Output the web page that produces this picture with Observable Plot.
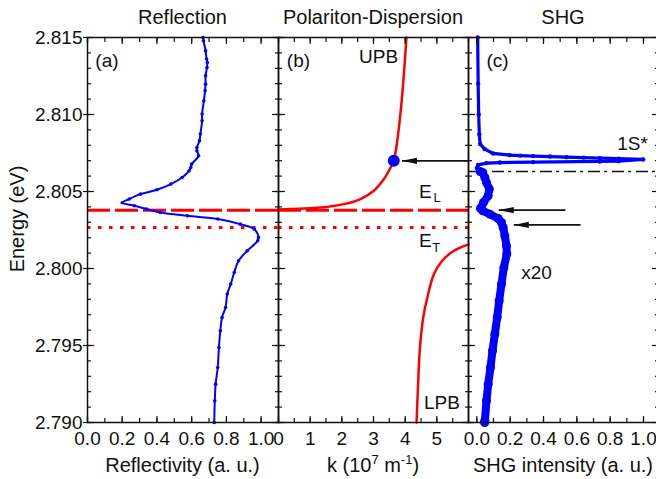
<!DOCTYPE html>
<html><head><meta charset="utf-8">
<script src="https://cdn.jsdelivr.net/npm/d3@7"></script>
<script src="https://cdn.jsdelivr.net/npm/@observablehq/plot@0.6"></script>
<style>
html,body{margin:0;padding:0;background:#fff;}
#wrap{position:relative;width:656px;height:479px;overflow:hidden;background:#fff;}
#wrap svg{position:absolute;top:0;}
</style></head><body><div id="wrap"></div>
<script>
// ---------- data ----------
const panelTitles = ["Reflection", "Polariton-Dispersion", "SHG"];
const yTickValues = [2.790, 2.795, 2.800, 2.805, 2.810, 2.815];
const xTicksA = [0.0, 0.2, 0.4, 0.6, 0.8, 1.0];
const xTicksB = [0, 1, 2, 3, 4, 5];
const xTicksC = [0.0, 0.2, 0.4, 0.6, 0.8, 1.0];

// (a) reflection spectrum
const reflEnergy = [2.8150,2.81479,2.81414,2.81360,2.81338,2.81305,2.81251,2.81197,2.81154,2.81089,2.81003,2.80959,2.80873,2.80829,2.80786,2.80764,2.80732,2.80678,2.80656,2.80634,2.80591,2.80548,2.80511,2.80483,2.80451,2.80427,2.80407,2.80386,2.80364,2.80342,2.80321,2.80288,2.80256,2.80201,2.80180,2.80115,2.80050,2.79974,2.79899,2.79834,2.79747,2.79682,2.79596,2.79487,2.79357,2.79249,2.79141,2.7900];
const reflValue  = [0.665,0.668,0.68,0.686,0.69,0.688,0.68,0.68,0.677,0.67,0.66,0.66,0.65,0.645,0.63,0.63,0.64,0.60,0.595,0.585,0.545,0.48,0.40,0.305,0.24,0.20,0.27,0.34,0.42,0.575,0.75,0.88,0.96,0.985,0.98,0.92,0.87,0.845,0.825,0.805,0.795,0.775,0.765,0.757,0.75,0.738,0.733,0.73];

// (b) polariton dispersion
const upbK = [0,1.33,2.06,2.59,3.01,3.33,3.54,3.64,3.75,3.87,3.96,4.04];
const upbE = [2.80383,2.80396,2.80418,2.80451,2.80505,2.80581,2.80656,2.80699,2.80829,2.81045,2.81262,2.815];
const lpbK = [4.36,4.40,4.46,4.57,4.70,4.91,5.17,5.54,5.96,6.0];
const lpbE = [2.790,2.79206,2.79466,2.79682,2.79812,2.79964,2.80050,2.80115,2.80154,2.80157];
const markK = [3.64], markE = [2.80699];
const E_L = 2.80379, E_T = 2.80266;

// (c) SHG
const shgPeakE = [2.8150,2.8120,2.8100,2.8087,2.80808,2.80775,2.80747,2.80736,2.80733,2.80730,2.80727,2.80723,2.80720,2.80717,2.80713,2.80708,2.80697,2.80695,2.80691,2.80688,2.80684,2.80673,2.80652,2.80640];
const shgPeakI = [0.005,0.008,0.011,0.015,0.02,0.048,0.098,0.198,0.26,0.338,0.44,0.538,0.64,0.738,0.85,0.998,0.85,0.738,0.338,0.138,0.058,0.008,0.0,0.01];
const shgE = [2.80630,2.80623,2.80591,2.80558,2.80516,2.80472,2.80429,2.80390,2.80375,2.80353,2.80325,2.80299,2.80266,2.80212,2.80147,2.80094,2.80006,2.79899,2.79790,2.79682,2.79574,2.79466,2.79357,2.79249,2.79141,2.79011,2.7900];
const shgI = [0.02,0.035,0.048,0.058,0.075,0.068,0.040,0.022,0.035,0.078,0.128,0.148,0.158,0.168,0.178,0.180,0.162,0.148,0.134,0.122,0.108,0.094,0.082,0.068,0.058,0.048,0.047];
const E_1S = 2.8063;

// arrows
const arrowsB = [{x1: 6.0, x2: 3.90, E: 2.80699}];
const arrowsC = [{x1: 0.532, x2: 0.132, E: 2.80379}, {x1: 0.622, x2: 0.222, E: 2.80283}];

// annotations
const labelsA = [{x: 0.112, E: 2.81349, t: "(a)"}];
const labelsB = [{x: 0.63, E: 2.81349, t: "(b)"}, {x: 3.16, E: 2.81371, t: "UPB"}, {x: 5.16, E: 2.79130, t: "LPB"}];
const labelsBE = [{x: 4.64, E: 2.80499, t: "E"}, {x: 4.64, E: 2.80180, t: "E"}];
const labelsBsub = [{x: 5.01, E: 2.80456, t: "L"}, {x: 4.98, E: 2.80136, t: "T"}];
const labelsC = [{x: 0.124, E: 2.81349, t: "(c)"}, {x: 0.934, E: 2.80807, t: "1S*"}, {x: 0.358, E: 2.79972, t: "x20"}];

// ---------- helpers ----------
const FONT = '"Liberation Sans", Arial, Helvetica, sans-serif';
const BLUE = "#0000ff", RED = "#ff0000";
const toRows = (xs, ys) => xs.map((x, i) => ({x, E: ys[i]}));
const minorE = d3.range(0, 26).map(i => +(2.790 + i * 0.001).toFixed(3));
const SVGNS = "http://www.w3.org/2000/svg";

function filledHead(color, context) {
  const doc = (context && context.document) || document;
  const m = doc.createElementNS(SVGNS, "marker");
  m.setAttribute("viewBox", "-16 -4 16 8");
  m.setAttribute("markerWidth", "16");
  m.setAttribute("markerHeight", "8");
  m.setAttribute("markerUnits", "userSpaceOnUse");
  m.setAttribute("orient", "auto");
  m.setAttribute("refX", "0");
  m.setAttribute("refY", "0");
  const p = doc.createElementNS(SVGNS, "path");
  p.setAttribute("d", "M0,0L-15,-3.2L-15,3.2Z");
  p.setAttribute("fill", color);
  p.setAttribute("stroke", "none");
  m.appendChild(p);
  return m;
}
function arrowMark(data, useMarker) {
  return useMarker
    ? Plot.link(data, {x1: "x1", x2: "x2", y1: "E", y2: "E", stroke: "#111", strokeWidth: 1.6, markerEnd: filledHead})
    : Plot.arrow(data, {x1: "x1", x2: "x2", y1: "E", y2: "E", stroke: "#111", strokeWidth: 1.5, headLength: 14, headAngle: 24});
}

function frameAxes(xMajor, xMinor) {
  const base = {fill: "none", label: null, strokeWidth: 1.2, stroke: "#111"};
  return [
    Plot.axisY(minorE, {...base, anchor: "left", tickSize: -4}),
    Plot.axisY(yTickValues, {...base, anchor: "left", tickSize: -7}),
    Plot.axisY(minorE, {...base, anchor: "right", tickSize: -4}),
    Plot.axisY(yTickValues, {...base, anchor: "right", tickSize: -7}),
    Plot.axisX(xMinor, {...base, anchor: "bottom", tickSize: -4}),
    Plot.axisX(xMajor, {...base, anchor: "bottom", tickSize: -6}),
    Plot.axisX(xMinor, {...base, anchor: "top", tickSize: -4}),
    Plot.axisX(xMajor, {...base, anchor: "top", tickSize: -6}),
    Plot.frame({stroke: "#111", strokeWidth: 1.5})
  ];
}
const xLabelAxis = (ticks, fmt) => Plot.axisX(ticks, {anchor: "bottom", tickSize: 0, tickPadding: 9, tickFormat: fmt, fontSize: 19, label: null, fill: "#111"});
const styleObj = {fontFamily: FONT, fontSize: "19px", color: "#111", background: "transparent", overflow: "visible"};
const MT = 37, MB = 57, H = 479;

// ---------- panel (a) ----------
const plotA = Plot.plot({
  width: 288, height: H, marginLeft: 87, marginRight: 10, marginTop: MT, marginBottom: MB,
  style: styleObj,
  x: {domain: [0, 1.1], axis: null},
  y: {domain: [2.790, 2.815], axis: null},
  marks: [
    Plot.ruleY([E_L], {stroke: RED, strokeWidth: 3, strokeDasharray: "23,5"}),
    Plot.ruleY([E_T], {stroke: RED, strokeWidth: 3, strokeDasharray: "3.5,7.5"}),
    Plot.line(toRows(reflValue, reflEnergy), {x: "x", y: "E", stroke: BLUE, strokeWidth: 2, curve: "catmull-rom"}),
    Plot.dot(toRows(reflValue, reflEnergy), {x: "x", y: "E", r: 1.8, fill: BLUE, stroke: null}),
    ...frameAxes(xTicksA, d3.range(0, 11).map(i => i / 10)),
    Plot.axisY(yTickValues, {anchor: "left", tickSize: 4, tickPadding: 1, tickFormat: d3.format(".3f"), fontSize: 19, label: null, stroke: "#111", strokeWidth: 1.2, fill: "#111"}),
    xLabelAxis(xTicksA, d3.format(".1f")),
    Plot.text(labelsA, {x: "x", y: "E", text: "t", fontSize: 19, fill: "#111"})
  ]
});
plotA.style.left = "0px";

// ---------- panel (b) ----------
function makeB(useMarker) {
  return Plot.plot({
    width: 210, height: H, marginLeft: 10, marginRight: 10, marginTop: MT, marginBottom: MB,
    style: styleObj,
    x: {domain: [0, 6], axis: null},
    y: {domain: [2.790, 2.815], axis: null},
    marks: [
      Plot.ruleY([E_L], {stroke: RED, strokeWidth: 3, strokeDasharray: "23,5"}),
      Plot.ruleY([E_T], {stroke: RED, strokeWidth: 3, strokeDasharray: "3.5,7.5"}),
      Plot.line(toRows(upbK, upbE), {x: "x", y: "E", stroke: RED, strokeWidth: 2.5, curve: "catmull-rom"}),
      Plot.line(toRows(lpbK, lpbE), {x: "x", y: "E", stroke: RED, strokeWidth: 2.5, curve: "catmull-rom"}),
      arrowMark(arrowsB, useMarker),
      Plot.dot(toRows(markK, markE), {x: "x", y: "E", r: 6, fill: BLUE, stroke: null}),
      ...frameAxes(xTicksB, d3.range(0, 13).map(i => i / 2)),
      xLabelAxis(xTicksB, d => String(d)),
      Plot.text(labelsB, {x: "x", y: "E", text: "t", fontSize: 19, fill: "#111"}),
      Plot.text(labelsBE, {x: "x", y: "E", text: "t", fontSize: 19, fill: "#111"}),
      Plot.text(labelsBsub, {x: "x", y: "E", text: "t", fontSize: 13, fill: "#111"})
    ]
  });
}

// ---------- panel (c) ----------
function makeC(useMarker) {
  return Plot.plot({
    width: 210, height: H, marginLeft: 10, marginRight: 10, marginTop: MT, marginBottom: MB,
    style: styleObj,
    x: {domain: [-0.05, 1.09], axis: null},
    y: {domain: [2.790, 2.815], axis: null},
    marks: [
      Plot.ruleY([E_1S], {stroke: "#111", strokeWidth: 1.6, strokeDasharray: "12,4,3,5"}),
      Plot.line(toRows(shgPeakI, shgPeakE), {x: "x", y: "E", stroke: BLUE, strokeWidth: 3.2, strokeLinejoin: "round"}),
      Plot.dot(toRows(shgPeakI, shgPeakE), {x: "x", y: "E", r: 2.2, fill: BLUE, stroke: null}),
      Plot.line(toRows(shgI, shgE), {x: "x", y: "E", stroke: BLUE, strokeWidth: 8, strokeLinejoin: "round", strokeLinecap: "round"}),
      Plot.dot(toRows(shgI, shgE), {x: "x", y: "E", r: 4.5, fill: BLUE, stroke: null}),
      arrowMark(arrowsC, useMarker),
      ...frameAxes(xTicksC, d3.range(0, 11).map(i => i / 10)),
      xLabelAxis(xTicksC, d3.format(".1f")),
      Plot.text(labelsC, {x: "x", y: "E", text: "t", fontSize: 19, fill: "#111"})
    ]
  });
}

let plotB, plotC;
try { plotB = makeB(true); plotC = makeC(true); }
catch (e) { plotB = makeB(false); plotC = makeC(false); }
plotB.style.left = "268px";
plotC.style.left = "458px";

const wrap = document.getElementById("wrap");
wrap.append(plotA, plotB, plotC);

// ---------- titles and axis labels ----------
const panelCenters = [182.5, 373, 563];
const ov = d3.select(wrap).append("svg")
  .attr("width", 656).attr("height", 479)
  .style("left", "0px").style("pointer-events", "none")
  .style("font-family", FONT).style("font-size", "20px").attr("fill", "#111");
panelTitles.forEach((t, i) => ov.append("text").attr("x", panelCenters[i]).attr("y", 23.5).attr("text-anchor", "middle").text(t));
ov.append("text").attr("x", panelCenters[0]).attr("y", 471.5).attr("text-anchor", "middle").text("Reflectivity (a. u.)");
const kl = ov.append("text").attr("x", panelCenters[1]).attr("y", 471.5).attr("text-anchor", "middle");
kl.append("tspan").text("k (10");
kl.append("tspan").attr("dy", -8).attr("font-size", 13).text("7");
kl.append("tspan").attr("dy", 8).text(" m");
kl.append("tspan").attr("dy", -8).attr("font-size", 13).text("-1");
kl.append("tspan").attr("dy", 8).text(")");
ov.append("text").attr("x", panelCenters[2]).attr("y", 471.5).attr("text-anchor", "middle").text("SHG intensity (a. u.)");
ov.append("text").attr("transform", "translate(24,219) rotate(-90)").attr("text-anchor", "middle").text("Energy (eV)");
</script>
</body></html>
